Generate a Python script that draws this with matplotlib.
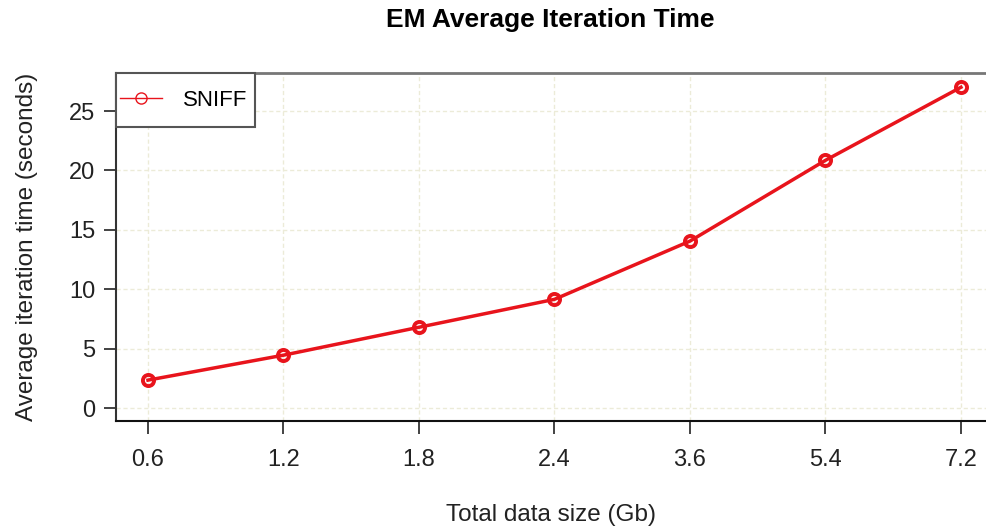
import matplotlib.pyplot as plt
from matplotlib.patches import Rectangle

sizes = ["0.6", "1.2", "1.8", "2.4", "3.6", "5.4", "7.2"]
sniff = [2.35, 4.45, 6.8, 9.15, 14.05, 20.85, 27.0]
y_ticks = [0, 5, 10, 15, 20, 25]

plt.rcParams['font.family'] = ['Liberation Sans', 'DejaVu Sans']

fig = plt.figure(figsize=(9.86, 5.29), dpi=100)
W, H = 986, 529
ax = fig.add_axes([116 / W, 1 - 421 / H, (W - 116) / W, (421 - 73) / H])

pos = list(range(1, len(sizes) + 1))
ax.plot(pos, sniff, '-o', color='#e8141c', lw=2.5, ms=8, mfc='none', mew=2.8,
        label='SNIFF')

ax.set_xlim(0.764, 7.185)
ax.set_ylim(-1.09, 28.2)
ax.set_xticks(pos)
ax.set_xticklabels(sizes)
ax.set_yticks(y_ticks)
ax.grid(True, color='#ecebd8', lw=1, ls=(0, (3, 2)))
ax.set_axisbelow(True)

ax.spines['right'].set_visible(False)
ax.spines['top'].set_color('#777777')
ax.spines['top'].set_linewidth(2)
ax.spines['left'].set_color('#333333')
ax.spines['left'].set_linewidth(1.5)
ax.spines['bottom'].set_color('#111111')
ax.spines['bottom'].set_linewidth(1.5)

ax.tick_params(axis='x', length=9, width=1.2, pad=11, labelsize=17, colors='#222222')
ax.tick_params(axis='y', length=9, width=1.2, pad=6, labelsize=17, colors='#222222')

ax.set_xlabel('Total data size (Gb)', fontsize=17.5, labelpad=24, color='#222222')
ax.set_ylabel('Average iteration time (seconds)', fontsize=17.5, labelpad=22, color='#222222')
fig.text(550 / W, 1 - 20 / H, 'EM Average Iteration Time', ha='center', va='center',
         fontsize=19, fontweight='bold')

# R-style legend box: white box in the corner, entry drawn without its own frame
box = Rectangle((116 / W, 1 - 127 / H), 139 / W, 54 / H, transform=fig.transFigure,
                facecolor='white', edgecolor='#555555', lw=1.5, zorder=3, clip_on=False)
ax.add_patch(box)
leg = ax.legend(loc='center left', bbox_to_anchor=(120 / W, 1 - 100 / H),
                bbox_transform=fig.transFigure, frameon=False, fontsize=16,
                handlelength=1.9, borderpad=0, borderaxespad=0, handletextpad=0.95)
leg.set_zorder(5)
for h in leg.legend_handles:
    h.set_linewidth(1)
    h.set_markeredgewidth(1)
    h.set_markersize(8)

fig.savefig('out.png', dpi=100)
